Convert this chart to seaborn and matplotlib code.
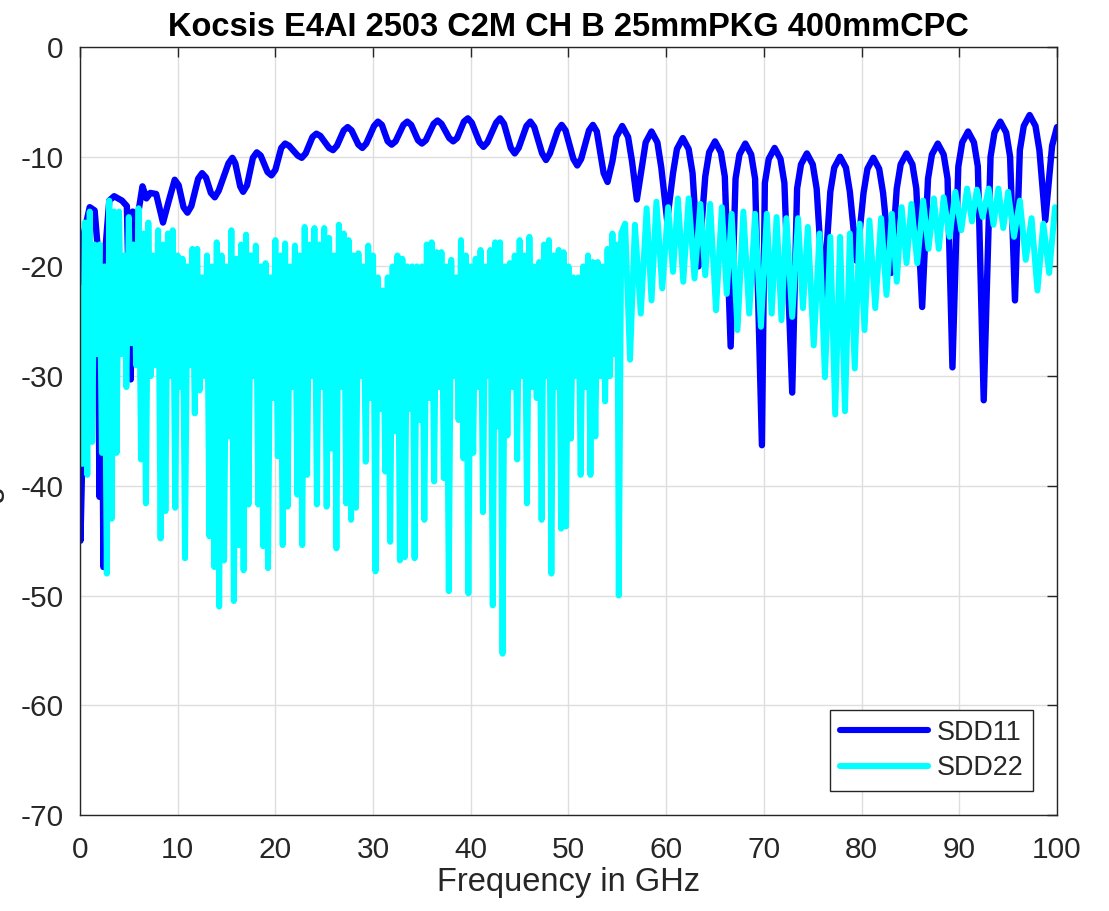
import numpy as np
import pandas as pd
import seaborn as sns
import matplotlib
matplotlib.use("Agg")
from matplotlib import pyplot as plt

# SDD11 (GHz, dB)
sdd11_f = [0.0, 0.05, 0.25, 0.4, 1.0, 1.5, 1.8, 2.0, 2.2, 2.4, 2.6, 3.0, 3.5, 3.9, 4.3, 4.8,
           5.2, 5.4, 5.9, 6.4, 6.8, 7.2, 7.8, 8.5, 9.1, 9.7,
           10.1, 10.6, 11.0, 11.4, 12.1, 12.5, 12.9, 13.4, 13.8, 14.2, 15.2, 15.6, 15.9, 16.4,
           16.7, 17.1, 17.7, 18.1, 18.5, 19.2, 19.6, 20.0, 20.6, 21.0, 21.4, 22.3, 22.7, 23.1,
           23.8, 24.2, 24.6, 25.5, 25.9, 26.3, 27.0, 27.4, 27.8, 28.5, 28.9, 29.3, 30.1, 30.5,
           30.9, 31.5, 31.9, 32.3, 33.1, 33.5, 33.9, 34.6, 35.0, 35.4, 36.2, 36.6, 37.0, 37.8,
           38.2, 38.6, 39.3, 39.7, 40.1, 40.9, 41.3, 41.7, 42.6, 43.0, 43.4, 44.1, 44.5, 44.9,
           45.7, 46.1, 46.5, 47.3, 47.7, 48.1, 48.9, 49.3, 49.7, 50.5, 50.9, 51.3, 52.1, 52.5,
           52.9, 53.6,
           54.0, 54.5, 54.9, 55.5, 56.1, 56.5, 57.0, 57.5, 57.9, 58.5, 59.1, 59.5, 60.1,
           60.7, 61.1, 61.7, 62.3, 62.7, 63.3, 64.0, 64.4, 65.0, 65.6, 66.0, 66.6,
           67.1, 67.5, 68.1, 68.7, 69.1, 69.8, 70.1, 70.5, 71.1, 71.7, 72.1, 72.9,
           73.4, 73.8, 74.4, 75.0, 75.4, 76.1, 76.8, 77.2, 77.8, 78.4, 78.8, 79.5,
           80.2, 80.6, 81.2, 81.8, 82.2, 83.0, 83.6, 84.0, 84.6, 85.2, 85.6, 86.2,
           86.8, 87.2, 87.8, 88.4, 88.8, 89.3, 89.9, 90.3, 90.9, 91.5, 91.9, 92.5,
           93.2, 93.6, 94.2, 94.8, 95.2, 95.7, 96.2, 96.6, 97.2, 97.8, 98.2, 98.8,
           99.5, 100.0]
sdd11_db = [-30, -45, -37, -17, -14.6, -14.9, -18.1, -41, -18.3, -47.4, -18.5, -14, -13.6, -13.8, -14, -14.5,
            -30.3, -15, -15.5, -12.7, -13.8, -13.3, -13.4, -16, -14, -12.1,
            -12.6, -14.6, -15.1, -14.5, -12.0, -11.5, -11.9, -13.3, -13.7, -13.1, -10.6, -10.1, -10.6, -12.7,
            -13.2, -12.6, -10.1, -9.6, -9.9, -11.4, -11.7, -11.2, -9.2, -8.8, -9.0, -9.9, -10.1, -9.7,
            -8.2, -7.9, -8.1, -9.2, -9.4, -9.0, -7.6, -7.3, -7.6, -8.9, -9.2, -8.8, -7.2, -6.8,
            -7.1, -8.6, -8.9, -8.6, -7.1, -6.8, -7.1, -8.5, -8.8, -8.5, -7.0, -6.7, -7.0, -8.3,
            -8.6, -8.3, -6.8, -6.5, -6.9, -8.7, -9.1, -8.7, -6.9, -6.5, -7.0, -9.2, -9.7, -9.2,
            -7.2, -6.8, -7.3, -9.7, -10.3, -9.7, -7.6, -7.1, -7.6, -10.2, -10.8, -10.2, -7.6, -7.1,
            -7.7, -11.5,
            -12.3, -10.4, -8.2, -7.2, -8.2, -10.4, -13.9, -11.0, -8.7, -7.7, -8.7, -11.0, -15.8,
            -11.5, -9.3, -8.3, -9.3, -11.5, -20.0, -11.8, -9.6, -8.6, -9.6, -11.8, -27.3,
            -12.0, -9.8, -8.8, -9.8, -12.0, -36.3, -12.4, -10.2, -9.2, -10.2, -12.4, -31.5,
            -12.9, -10.7, -9.7, -10.7, -12.9, -22.8, -13.2, -11.0, -10.0, -11.0, -13.2, -19.5,
            -13.3, -11.1, -10.1, -11.1, -13.3, -20.6, -12.9, -10.7, -9.7, -10.7, -12.9, -23.7,
            -12.0, -9.8, -8.8, -9.8, -12.0, -29.2, -10.9, -8.7, -7.7, -8.7, -10.9, -32.2,
            -10.0, -7.8, -6.8, -7.8, -10.0, -23.1, -9.4, -7.2, -6.2, -7.2, -9.4, -15.8,
            -9.0, -7.3]

# SDD22 below 55 GHz: one high and one low reading per 0.5 GHz sweep step pair
sdd22_hi = [-22, -16, -15, -18, -18, -20, -14, -15, -15, -19,
            -15.5, -18, -14.7, -17, -16, -19, -16.7, -18, -17, -16.7,
            -19, -19.3, -20, -18.4, -18.4, -21, -19, -20, -17.8, -19,
            -20, -16.7, -19.3, -18, -17.1, -19, -18.1, -20, -19.7, -21,
            -17.6, -19, -17.9, -20, -18.1, -19, -16.4, -18, -16.5, -18,
            -16.5, -17.4, -19, -16.2, -17, -17.6, -19, -18.8, -20, -18.1,
            -19, -21, -22.2, -21, -20, -19, -19.3, -20, -20, -20,
            -20, -18, -17.8, -18.7, -18.7, -20, -19.4, -21, -17.6, -19,
            -20, -19.3, -18.5, -20, -18.5, -17.8, -17.8, -20, -19.7, -19,
            -17.6, -19, -17.3, -20, -19.6, -18, -17.6, -19, -18.5, -18.7,
            -20, -21, -21, -20, -19, -19.6, -19.6, -20, -18.4, -17]
sdd22_lo = [-38, -39, -36, -28, -37, -48, -43, -37, -28, -31,
            -27, -29, -37.6, -41.6, -30, -29, -44.8, -42.3, -30, -42,
            -31, -46.6, -29, -33.4, -31.3, -30, -44.6, -47.4, -51, -46.8,
            -35.5, -50.5, -45.4, -47.7, -41.7, -30, -41.7, -45.5, -47.5, -32,
            -37.3, -45.4, -41.9, -31, -40.8, -45.4, -39, -30, -41.7, -31,
            -41.9, -36.6, -45.7, -31, -41.6, -43.1, -42, -30, -37.8, -32,
            -47.8, -33, -38.7, -45.1, -35, -46.8, -46.5, -33, -46.6, -34,
            -43.1, -32, -39.6, -31, -39.3, -49.6, -30, -34, -37.5, -49.8,
            -37, -31, -42.4, -30, -50.9, -34.6, -55.3, -35.4, -31, -37.6,
            -30, -41.6, -31, -32, -43.1, -30, -48, -31, -43.9, -43.7,
            -35.7, -30, -39, -31, -39, -35.5, -30, -32.3, -30, -28]

# SDD22 above 55 GHz (GHz, dB)
sdd22_f_hi = [55.0, 55.15, 55.4, 55.8, 56.3, 56.8, 57.4, 58.0, 58.5, 59.0, 59.6, 60.2, 60.7,
              61.2, 61.75, 62.3, 62.9, 63.5, 64.0, 64.5, 65.1, 65.7, 66.2, 66.7, 67.3,
              67.9, 68.5, 69.1, 69.7, 70.3, 70.8, 71.3, 71.8, 72.3, 72.9, 73.5, 74.0,
              74.5, 75.1, 75.7, 76.25, 76.8, 77.3, 77.8, 78.3, 78.8, 79.3, 79.8, 80.3,
              80.8, 81.4, 82.0, 82.55, 83.1, 83.6, 84.1, 84.6, 85.1, 85.7, 86.3, 86.85,
              87.4, 87.9, 88.4, 89.0, 89.6, 90.2, 90.8, 91.3, 91.8, 92.4, 93.0, 93.5,
              94.0, 94.5, 95.0, 95.6, 96.2, 96.8, 97.4, 98.0, 98.6, 99.2, 99.8]
sdd22_db_hi = [-18, -50, -17, -16.1, -28.5, -16.2, -24.3, -14.7, -23.1, -14.1, -22.0, -14.6, -20.5,
               -13.8, -21.4, -13.8, -21.1, -14.3, -20.8, -14.3, -24.0, -14.6, -22.5, -15.2, -25.8,
               -15.0, -24.3, -15.2, -25.5, -15.2, -24.3, -15.5, -24.9, -15.6, -24.6, -15.6, -23.8,
               -16.4, -27.2, -17.0, -30.1, -17.3, -33.5, -17.3, -33.2, -17.0, -29.3, -16.1, -25.8,
               -15.8, -23.8, -15.6, -22.6, -15.2, -21.4, -14.6, -19.7, -14.3, -19.7, -14.0, -18.4,
               -13.8, -18.4, -13.7, -17.3, -13.2, -16.7, -12.9, -15.9, -13.0, -15.5, -12.9, -16.2,
               -12.9, -16.5, -13.2, -17.3, -14.0, -19.4, -15.6, -22.2, -16.1, -20.6, -14.6]

# sweep grid for the low band: 0.25 GHz steps, high/low readings interleaved
lo_band_f = np.arange(2 * len(sdd22_hi)) * 0.25
lo_band_db = np.ravel(np.column_stack([sdd22_hi, sdd22_lo]))

s11 = pd.DataFrame({'freq': sdd11_f, 'db': sdd11_db})
s22 = pd.DataFrame({'freq': np.concatenate([lo_band_f, sdd22_f_hi]),
                    'db': np.concatenate([lo_band_db, sdd22_db_hi])})

sns.set_theme(style="white")
plt.rcParams['font.family'] = ['Liberation Sans', 'DejaVu Sans']
plt.rcParams['axes.unicode_minus'] = False

fig = plt.figure(figsize=(11.09, 9.11), dpi=100)
ax = fig.add_axes([0.0721, 0.1054, 0.8810, 0.8430])

sns.lineplot(data=s11, x='freq', y='db', color='#0000FF', linewidth=4.6,
             estimator=None, sort=False, label='SDD11', ax=ax)
sns.lineplot(data=s22, x='freq', y='db', color='#00FFFF', linewidth=4.3,
             estimator=None, sort=False, label='SDD22', ax=ax)

ax.set_xlim(0, 100)
ax.set_ylim(-70, 0)
ax.set_xticks(range(0, 101, 10))
ax.set_yticks(range(-70, 1, 10))
ax.grid(True, color='#dedede', linewidth=1.0)
ax.set_axisbelow(True)
for sp in ax.spines.values():
    sp.set_color('#262626')
    sp.set_linewidth(1.0)
ax.tick_params(direction='in', length=7, width=1.0, color='#262626', labelsize=21.5,
               labelcolor='#262626', top=True, right=True)
ax.tick_params(axis='x', pad=15)
ax.tick_params(axis='y', pad=12)

ax.set_title('Kocsis E4AI 2503 C2M CH B 25mmPKG 400mmCPC', fontsize=23.5,
             fontweight='bold', color='black', pad=8)
ax.set_xlabel('Frequency in GHz', fontsize=23.5, color='#262626', labelpad=2)
# the y label sits mostly beyond the left edge, as in the source image
ax.set_ylabel('Magnitude in dB', fontsize=23.5, color='#262626')
ax.yaxis.set_label_coords(-0.0765, 0.5)

leg = ax.legend(loc='lower right', fontsize=19.4, frameon=True, fancybox=False,
                framealpha=1, edgecolor='#262626', handlelength=3.3, handletextpad=0.3,
                labelspacing=0.35, borderpad=0.35, borderaxespad=0.9)
leg.get_frame().set_linewidth(1.0)
for line in leg.get_lines():
    line.set_linewidth(4.4)

fig.savefig('out.png', dpi=100)
